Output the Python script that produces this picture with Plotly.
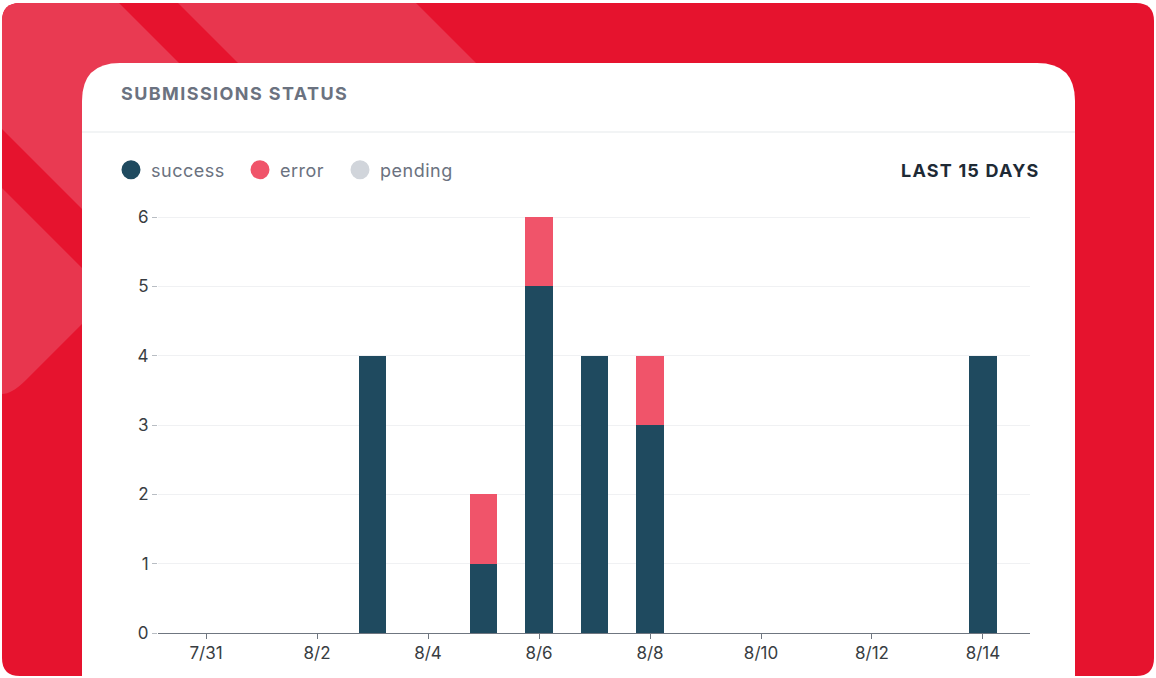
import plotly.graph_objects as go

# ---- data ----
dates = ["7/31", "8/1", "8/2", "8/3", "8/4", "8/5", "8/6", "8/7",
         "8/8", "8/9", "8/10", "8/11", "8/12", "8/13", "8/14"]
success = [0, 0, 0, 4, 0, 1, 5, 4, 3, 0, 0, 0, 0, 0, 4]
error = [0, 0, 0, 0, 0, 1, 1, 0, 1, 0, 0, 0, 0, 0, 0]
pending = [0] * 15
series_names = ["success", "error", "pending"]
tick_labels = dates[::2]
y_ticks = [0, 1, 2, 3, 4, 5, 6]

C_SUCCESS = "#1F4A5F"
C_ERROR = "#F0546A"
C_PENDING = "#D1D5DB"
RED = "#E6132E"
RED_LIGHT = "#E93A52"

W, H = 1156, 678
PL, PR, PT, PB = 158, 1030, 200, 633


def px(x):
    return (x - PL) / (PR - PL)


def py(y):
    return (PB - y) / (PB - PT)


def path(cmds):
    out = []
    for c in cmds:
        s = c[0]
        for (a, b) in c[1:]:
            s += f" {px(a):.5f},{py(b):.5f}"
        out.append(s)
    return " ".join(out) + " Z"


def rrect(x0, y0, x1, y1, r):
    return path([
        ("M", (x0 + r, y0)), ("L", (x1 - r, y0)), ("Q", (x1, y0), (x1, y0 + r)),
        ("L", (x1, y1 - r)), ("Q", (x1, y1), (x1 - r, y1)),
        ("L", (x0 + r, y1)), ("Q", (x0, y1), (x0, y1 - r)),
        ("L", (x0, y0 + r)), ("Q", (x0, y0), (x0 + r, y0)),
    ])


def paper_shape(p, color):
    return dict(type="path", path=p, fillcolor=color, line=dict(width=0),
                xref="paper", yref="paper", layer="below")


shapes = []
# outer red panel
shapes.append(paper_shape(rrect(2, 3, 1154, 676, 18), RED))
# light band A (top-left corner)
rA = 18
shapes.append(paper_shape(path([
    ("M", (2, 129)), ("L", (2, 3 + rA)), ("Q", (2, 3), (2 + rA, 3)), ("L", (119, 3)),
    ("L", (319, 203)), ("L", (300, 427)), ("L", (2, 129))]), RED_LIGHT))
# light band B
shapes.append(paper_shape(path([
    ("M", (178, 3)), ("L", (416, 3)), ("L", (616, 203)), ("L", (378, 203))]), "#E8364E"))
# light band C (left rounded diamond)
shapes.append(paper_shape(path([
    ("M", (2, 188)), ("L", (110, 296)), ("L", (26, 380)), ("Q", (12, 394), (2, 394))]), "#E8364E"))
# white card
rc = 38
shapes.append(paper_shape(path([
    ("M", (82, 690)), ("L", (82, 63 + rc)), ("Q", (82, 63), (82 + rc, 63)),
    ("L", (1075 - rc, 63)), ("Q", (1075, 63), (1075, 63 + rc)), ("L", (1075, 690))]), "#FFFFFF"))
# separator
shapes.append(dict(type="line", x0=px(82), x1=px(1075), y0=py(132), y1=py(132),
                   xref="paper", yref="paper", line=dict(color="#EEF0F2", width=1.5), layer="below"))

fig = go.Figure()
for name, vals, col in zip(series_names, [success, error, pending], [C_SUCCESS, C_ERROR, C_PENDING]):
    fig.add_trace(go.Bar(x=dates, y=vals, name=name, marker=dict(color=col, line=dict(width=0)),
                         width=0.5, showlegend=False, legendgroup=name))

legend_widths = [84, 55, 80]
for name, col, lw in zip(series_names, [C_SUCCESS, C_ERROR, C_PENDING], legend_widths):
    fig.add_trace(go.Scatter(x=[None], y=[None], mode="markers",
                             name=f"<span style='letter-spacing:0.5px'>{name}</span>",
                             legendgroup=name, legendwidth=lw,
                             marker=dict(symbol="circle", size=16, color=col,
                                         line=dict(color=col, width=3))))

tickfont = dict(family="Inter, Roboto, sans-serif", size=17, color="#383D42")

fig.update_layout(
    width=W, height=H,
    margin=dict(l=PL, r=W - PR, t=PT, b=H - PB, pad=0),
    paper_bgcolor="#FFFFFF", plot_bgcolor="rgba(0,0,0,0)",
    barmode="stack",
    shapes=shapes,
    showlegend=True,
    legend=dict(orientation="h", x=px(111), y=py(170), xanchor="left", yanchor="middle",
                font=dict(family="Inter, Roboto, sans-serif", size=18, color="#6B7280"),
                bgcolor="rgba(0,0,0,0)", borderwidth=0),
    xaxis=dict(type="category", range=[-0.865, 14.847], tickmode="array",
               tickvals=tick_labels, ticktext=tick_labels, showgrid=False,
               showline=True, linecolor="#6F7680", linewidth=1,
               ticks="outside", ticklen=5, tickcolor="#6F7680", tickfont=tickfont),
    yaxis=dict(range=[0, (PB - PT) / ((PB - 217) / 6)], tickmode="array", tickvals=y_ticks,
               showgrid=True, gridcolor="#F0F1F3", gridwidth=1, zeroline=False,
               showline=False, ticks="outside", ticklen=5, tickcolor="#B8BDC3",
               tickfont=tickfont),
    annotations=[
        dict(text="<span style='letter-spacing:1.4px'><b>SUBMISSIONS STATUS</b></span>",
             x=px(119), y=py(93), xref="paper", yref="paper",
             xanchor="left", yanchor="middle", showarrow=False,
             font=dict(family="Inter, Roboto, sans-serif", size=18, color="#6B7280")),
        dict(text="<span style='letter-spacing:1.2px'><b>LAST 15 DAYS</b></span>",
             x=px(1042), y=py(170), xref="paper", yref="paper",
             xanchor="right", yanchor="middle", showarrow=False,
             font=dict(family="Inter, Roboto, sans-serif", size=18, color="#1E2A35")),
    ],
)

fig.write_html("out.html", config={"displayModeBar": False},
               post_script="document.body.style.margin='0';")
